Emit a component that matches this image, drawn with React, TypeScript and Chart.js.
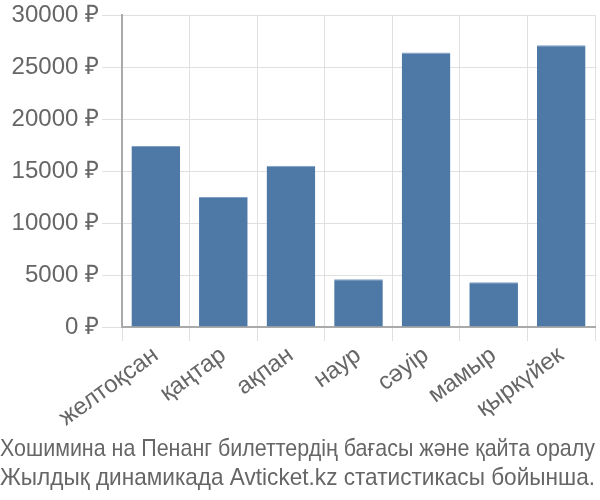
import React, { useEffect, useRef } from "react";
import { Chart, registerables } from "chart.js";

Chart.register(...registerables);

const categories = ["желтоқсан", "қаңтар", "ақпан", "наур", "сәуір", "мамыр", "қыркүйек"];
const prices = [17400, 12500, 15500, 4600, 26400, 4300, 27100];
const titleLines = [
  "Хошимина на Пенанг билеттердің бағасы және қайта оралу",
  "Жылдық динамикада Avticket.kz статистикасы бойынша.",
];
const yTicks = [0, 5000, 10000, 15000, 20000, 25000, 30000];

const FONT = "'Liberation Sans', Arial, sans-serif";

export default function App() {
  const ref = useRef<HTMLCanvasElement | null>(null);
  useEffect(() => {
    if (!ref.current) return;
    const chart = new Chart(ref.current, {
      type: "bar",
      data: {
        labels: categories,
        datasets: [
          {
            data: prices,
            backgroundColor: "#4e79a7",
            borderColor: "#7fa0c4",
            borderWidth: { top: 1, left: 0, right: 0, bottom: 0 },
            barPercentage: 0.72,
            categoryPercentage: 1,
          },
        ],
      },
      options: {
        animation: false,
        responsive: false,
        layout: { padding: { left: 0, right: 5, top: 2, bottom: 0 } },
        plugins: {
          legend: { display: false },
          tooltip: { enabled: false },
          title: {
            display: true,
            position: "bottom",
            text: titleLines,
            color: "#666",
            font: { family: FONT, size: 24, weight: "normal", lineHeight: 1.2 },
            padding: { top: 3, bottom: 7 },
          },
        },
        scales: {
          x: {
            grid: { color: "#e0e0e0", offset: true, tickLength: 14 },
            border: { color: "#aaa", width: 2 },
            ticks: {
              color: "#666",
              font: { family: FONT, size: 24 },
              minRotation: 36,
              maxRotation: 36,
              padding: 0,
            },
          },
          y: {
            min: 0,
            max: 30000,
            afterBuildTicks: (axis: any) => {
              axis.ticks = yTicks.map((v) => ({ value: v }));
            },
            afterFit: (axis: any) => {
              axis.width = 122;
            },
            grid: { color: "#e0e0e0", tickLength: 20 },
            border: { color: "#aaa", width: 2 },
            ticks: {
              color: "#666",
              font: { family: FONT, size: 24, lineHeight: 1.0 },
              padding: 3,
              callback: (v: any) => `${v} ₽`,
            },
          },
        },
      },
    });
    return () => chart.destroy();
  }, []);
  return (
    <div style={{ position: "absolute", left: 0, top: 0, width: 600, height: 500 }}>
      <canvas ref={ref} width={600} height={500} />
    </div>
  );
}
